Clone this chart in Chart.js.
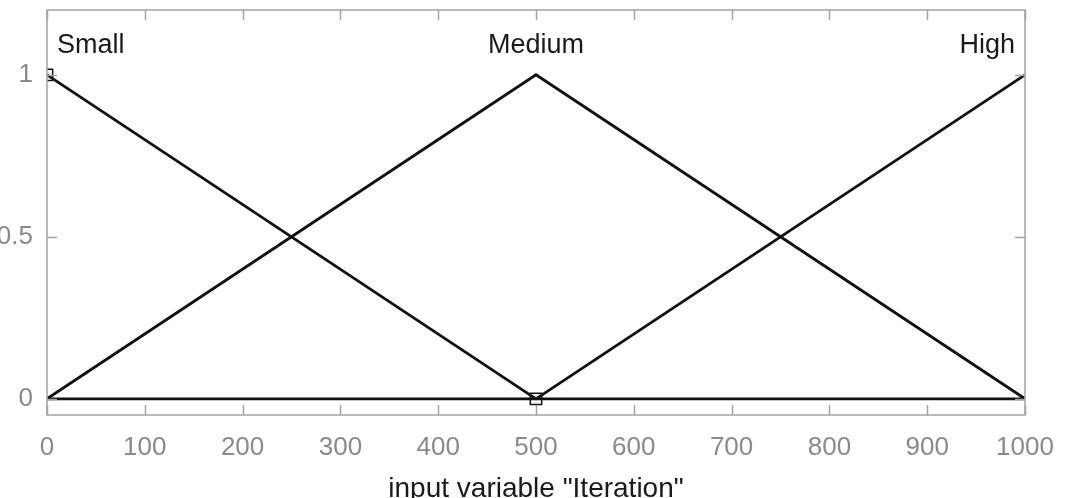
<!DOCTYPE html>
<html lang="en">
<head>
    <meta charset="UTF-8">
    <title>Membership functions</title>
    <script src="https://cdn.jsdelivr.net/npm/chart.js"></script>
    <style>
        html, body { margin: 0; padding: 0; background: #fff; }
        #wrap { width: 1067px; height: 498px; }
    </style>
</head>
<body>
    <div id="wrap"><canvas id="mfChart"></canvas></div>
    <script>
        // membership functions of input "Iteration"
        const mfNames = ['Small', 'Medium', 'High'];
        const mfX = [0, 500, 1000];
        const smallY = [1, 0, 0];
        const mediumY = [0, 1, 0];
        const highY = [0, 0, 1];
        const markerX = [0, 500];
        const markerY = [1, 0];
        const xTicks = [0, 100, 200, 300, 400, 500, 600, 700, 800, 900, 1000];
        const yTicks = [0, 0.5, 1];
        const xTitle = 'input variable "Iteration"';

        const toPoints = (xs, ys) => xs.map((x, i) => ({ x: x, y: ys[i] }));

        function lineSet(label, ys) {
            return {
                label: label,
                data: toPoints(mfX, ys),
                showLine: true,
                borderColor: '#111',
                borderWidth: 2.8,
                pointRadius: 0,
                tension: 0
            };
        }

        // box + inward ticks + mf names, like matlab's plotmf
        const boxPlugin = {
            id: 'box',
            afterDraw(chart) {
                const ctx = chart.ctx;
                const a = chart.chartArea;
                const xs = chart.scales.x, ys = chart.scales.y;
                const tl = 10;
                ctx.save();
                ctx.strokeStyle = '#a3a3a3';
                ctx.lineWidth = 1.5;
                ctx.strokeRect(a.left, a.top, a.right - a.left, a.bottom - a.top);
                ctx.beginPath();
                xTicks.forEach(v => {
                    const px = Math.round(xs.getPixelForValue(v)) + 0.5;
                    ctx.moveTo(px, a.bottom); ctx.lineTo(px, a.bottom - tl);
                    ctx.moveTo(px, a.top); ctx.lineTo(px, a.top + tl);
                });
                yTicks.forEach(v => {
                    const py = Math.round(ys.getPixelForValue(v)) + 0.5;
                    ctx.moveTo(a.left, py); ctx.lineTo(a.left + tl, py);
                    ctx.moveTo(a.right, py); ctx.lineTo(a.right - tl, py);
                });
                ctx.stroke();

                ctx.fillStyle = '#1a1a1a';
                ctx.font = '27px "Liberation Sans", Arial, sans-serif';
                ctx.textBaseline = 'middle';
                const ly = ys.getPixelForValue(1) - 29;
                mfNames.forEach((name, i) => {
                    let px = xs.getPixelForValue(mfX[i]);
                    if (i === 0) { ctx.textAlign = 'left'; px += 10; }
                    else if (i === mfNames.length - 1) { ctx.textAlign = 'right'; px -= 10; }
                    else { ctx.textAlign = 'center'; }
                    ctx.fillText(name, px, ly);
                });
                ctx.restore();
            }
        };

        new Chart(document.getElementById('mfChart'), {
            type: 'scatter',
            data: {
                datasets: [
                    lineSet(mfNames[0], smallY),
                    lineSet(mfNames[1], mediumY),
                    lineSet(mfNames[2], highY),
                    {
                        label: 'markers',
                        data: toPoints(markerX, markerY),
                        pointStyle: 'rect',
                        pointRadius: 8,
                        pointBackgroundColor: '#fff',
                        pointBorderColor: '#111',
                        pointBorderWidth: 1.5,
                        showLine: false
                    }
                ]
            },
            options: {
                responsive: true,
                maintainAspectRatio: false,
                animation: false,
                layout: { padding: { top: 10, right: 42, left: 0, bottom: 0 } },
                plugins: {
                    legend: { display: false },
                    tooltip: { enabled: false }
                },
                scales: {
                    x: {
                        type: 'linear',
                        min: 0,
                        max: 1000,
                        afterBuildTicks: s => { s.ticks = xTicks.map(v => ({ value: v })); },
                        afterFit: s => { s.height = 83; s.paddingLeft = 0; s.paddingRight = 0; },
                        grid: { display: false, drawTicks: false },
                        border: { display: false },
                        ticks: {
                            color: '#8a8a8a',
                            padding: 17,
                            maxRotation: 0,
                            callback: v => String(v),
                            font: { family: '"Liberation Sans", Arial, sans-serif', size: 26 }
                        },
                        title: {
                            display: true,
                            text: xTitle,
                            color: '#1a1a1a',
                            padding: { top: 4, bottom: -8 },
                            font: { family: '"Liberation Sans", Arial, sans-serif', size: 28 }
                        }
                    },
                    y: {
                        type: 'linear',
                        min: -0.05,
                        max: 1.2,
                        afterBuildTicks: s => { s.ticks = yTicks.map(v => ({ value: v })); },
                        afterFit: s => { s.width = 47; s.paddingTop = 0; s.paddingBottom = 0; },
                        grid: { display: false, drawTicks: false },
                        border: { display: false },
                        ticks: {
                            color: '#8a8a8a',
                            padding: 14,
                            callback: v => String(v),
                            font: { family: '"Liberation Sans", Arial, sans-serif', size: 26 }
                        }
                    }
                }
            },
            plugins: [boxPlugin]
        });
    </script>
</body>
</html>
